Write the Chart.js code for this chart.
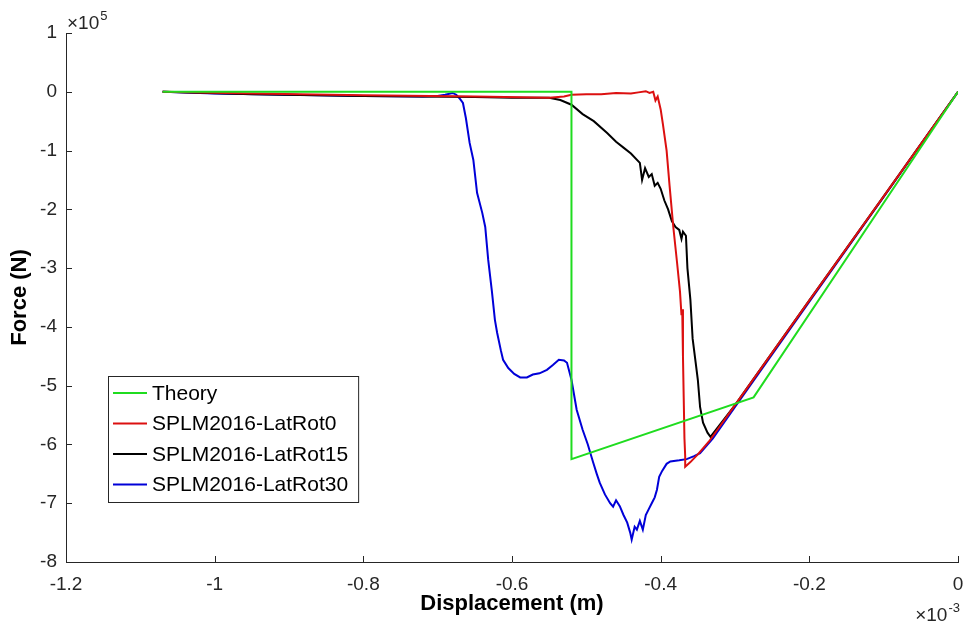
<!DOCTYPE html>
<html>
<head>
<meta charset="utf-8">
<title>Force vs displacement</title>
<script src="https://cdn.jsdelivr.net/npm/chart.js@4.4.1/dist/chart.umd.min.js"></script>
<style>
  html, body { margin: 0; padding: 0; background: #fff; }
  #wrap { width: 968px; height: 632px; }
</style>
</head>
<body>
<div id="wrap"><canvas id="forceChart" width="968" height="632"></canvas></div>
<script>
// displacement in 1e-3 m, force in 1e5 N
const theoryX = [-1.07, -0.52, -0.52, -0.275, 0];
const theoryY = [0, 0, -6.25, -5.2, 0];

const rot0X = [-1.07, -0.95, -0.8, -0.65, -0.55, -0.53, -0.52, -0.5, -0.48, -0.46, -0.44, -0.43, -0.42, -0.415, -0.41,
  -0.407, -0.404, -0.4, -0.397, -0.392, -0.388, -0.383, -0.378, -0.374, -0.372, -0.371, -0.37, -0.369, -0.368, -0.367, -0.367,
  -0.36, -0.35, -0.335, -0.3, -0.2, -0.1, 0];
const rot0Y = [0, -0.03, -0.06, -0.08, -0.1, -0.08, -0.05, -0.04, -0.04, -0.02, -0.03, -0.01, 0.01, -0.02, 0,
  -0.15, -0.08, -0.3, -0.55, -1.0, -1.6, -2.3, -2.9, -3.4, -3.8, -3.7, -4.5, -5.2, -5.9, -6.2, -6.38,
  -6.3, -6.17, -5.95, -5.33, -3.55, -1.78, 0];

const rot15X = [-1.07, -0.95, -0.8, -0.65, -0.6, -0.55, -0.535, -0.52, -0.505, -0.49, -0.472, -0.46, -0.45, -0.44, -0.428,
  -0.425, -0.421, -0.416, -0.412, -0.408, -0.404, -0.4, -0.395, -0.39, -0.385, -0.38, -0.375, -0.372, -0.37, -0.366,
  -0.364, -0.36, -0.357, -0.353, -0.35, -0.347, -0.343, -0.337, -0.333, -0.3, -0.2, -0.1, 0];
const rot15Y = [0, -0.04, -0.07, -0.09, -0.1, -0.1, -0.14, -0.22, -0.38, -0.5, -0.7, -0.85, -0.95, -1.05, -1.21,
  -1.5, -1.3, -1.45, -1.4, -1.6, -1.55, -1.65, -1.85, -2.0, -2.2, -2.3, -2.35, -2.5, -2.38, -2.45,
  -3.0, -3.54, -4.2, -4.6, -4.9, -5.36, -5.63, -5.8, -5.87, -5.33, -3.55, -1.78, 0];

const rot30X = [-1.07, -1.0, -0.9, -0.8, -0.72, -0.7, -0.69, -0.68, -0.675, -0.67, -0.666, -0.662, -0.657, -0.652,
  -0.647, -0.64, -0.636, -0.632, -0.627, -0.623, -0.62, -0.615, -0.612, -0.605, -0.597, -0.589, -0.58, -0.572, -0.563,
  -0.553, -0.545, -0.537, -0.53, -0.526, -0.52, -0.513, -0.505, -0.498, -0.491, -0.486, -0.482, -0.475, -0.468, -0.464,
  -0.46, -0.455, -0.45, -0.445, -0.441, -0.439, -0.435, -0.432, -0.428, -0.424, -0.42, -0.416, -0.412, -0.408, -0.405,
  -0.402, -0.398, -0.392, -0.387, -0.375, -0.365, -0.355, -0.347, -0.33, -0.3, -0.2, -0.1, 0];
const rot30Y = [0, -0.03, -0.05, -0.07, -0.08, -0.07, -0.05, -0.02, -0.05, -0.12, -0.19, -0.45, -0.87, -1.16,
  -1.72, -2.06, -2.3, -2.86, -3.4, -3.88, -4.1, -4.4, -4.56, -4.7, -4.8, -4.86, -4.86, -4.81, -4.79,
  -4.73, -4.65, -4.56, -4.57, -4.61, -4.9, -5.41, -5.75, -6.0, -6.3, -6.5, -6.65, -6.85, -7.0, -7.06,
  -6.95, -7.05, -7.2, -7.33, -7.5, -7.62, -7.4, -7.45, -7.3, -7.45, -7.2, -7.1, -7.0, -6.9, -6.77,
  -6.55, -6.45, -6.33, -6.29, -6.27, -6.25, -6.2, -6.15, -5.9, -5.36, -3.57, -1.79, 0];

const seriesNames = ['Theory', 'SPLM2016-LatRot0', 'SPLM2016-LatRot15', 'SPLM2016-LatRot30'];
const seriesColors = ['#1fdc1f', '#dc1010', '#000000', '#0000d8'];

const xTickLabels = ['-1.2', '-1', '-0.8', '-0.6', '-0.4', '-0.2', '0'];
const yTickLabels = ['-8', '-7', '-6', '-5', '-4', '-3', '-2', '-1', '0', '1'];

const FONT = '"Liberation Sans", Arial, Helvetica, sans-serif';
const AXIS_COLOR = '#262626';

function toPoints(xs, ys) {
  return xs.map((x, i) => ({ x: x, y: ys[i] }));
}

const allX = [theoryX, rot0X, rot15X, rot30X];
const allY = [theoryY, rot0Y, rot15Y, rot30Y];

const datasets = seriesNames.map((name, i) => ({
  label: name,
  data: toPoints(allX[i], allY[i]),
  borderColor: seriesColors[i],
  backgroundColor: seriesColors[i],
  borderWidth: 2,
  pointRadius: 0,
  tension: 0,
  fill: false
}));

// MATLAB style ticks pointing into the plot area
const innerTicks = {
  id: 'innerTicks',
  afterDraw(chart) {
    const { ctx, chartArea, scales } = chart;
    const len = 6;
    ctx.save();
    ctx.strokeStyle = AXIS_COLOR;
    ctx.lineWidth = 1;
    ctx.beginPath();
    scales.x.ticks.forEach(t => {
      const px = Math.round(scales.x.getPixelForValue(t.value)) + 0.5;
      ctx.moveTo(px, chartArea.bottom);
      ctx.lineTo(px, chartArea.bottom - len);
    });
    scales.y.ticks.forEach(t => {
      const py = Math.round(scales.y.getPixelForValue(t.value)) + 0.5;
      ctx.moveTo(chartArea.left, py);
      ctx.lineTo(chartArea.left + len, py);
    });
    ctx.stroke();
    ctx.restore();
  }
};

// exponent multipliers next to the axes
const axisExponents = {
  id: 'axisExponents',
  afterDraw(chart) {
    const { ctx, chartArea } = chart;
    ctx.save();
    ctx.fillStyle = AXIS_COLOR;
    ctx.textBaseline = 'alphabetic';
    ctx.textAlign = 'left';

    // y axis: x10^5
    let x = chartArea.left + 1;
    let base = chartArea.top - 4;
    ctx.font = '19px ' + FONT;
    ctx.fillText('\u00d710', x, base);
    x += ctx.measureText('\u00d710').width + 1;
    ctx.font = '13px ' + FONT;
    ctx.fillText('5', x, base - 9);

    // x axis: x10^-3
    ctx.font = '13px ' + FONT;
    const supW = ctx.measureText('-3').width;
    ctx.font = '19px ' + FONT;
    const mainW = ctx.measureText('\u00d710').width;
    x = chartArea.right + 2 - supW - mainW - 1;
    base = chartArea.bottom + 59;
    ctx.fillText('\u00d710', x, base);
    ctx.font = '13px ' + FONT;
    ctx.fillText('-3', x + mainW + 1, base - 9);
    ctx.restore();
  }
};

// boxed legend in the lower left of the plot
const boxLegend = {
  id: 'boxLegend',
  afterDraw(chart) {
    const { ctx, chartArea } = chart;
    const left = chartArea.left + 42;
    const top = chartArea.bottom - 186;
    const rowH = 30.5;
    ctx.save();
    ctx.font = '21px ' + FONT;
    const textW = Math.max(...seriesNames.map(n => ctx.measureText(n).width));
    const w = 44 + textW + 10;
    const h = 126;
    ctx.fillStyle = '#fff';
    ctx.fillRect(left, top, w, h);
    ctx.strokeStyle = AXIS_COLOR;
    ctx.lineWidth = 1;
    ctx.strokeRect(left + 0.5, top + 0.5, w, h);
    ctx.textBaseline = 'middle';
    ctx.textAlign = 'left';
    chart.data.datasets.forEach((ds, i) => {
      const y = top + 17 + i * rowH;
      ctx.strokeStyle = ds.borderColor;
      ctx.lineWidth = 2;
      ctx.beginPath();
      ctx.moveTo(left + 5, y);
      ctx.lineTo(left + 39, y);
      ctx.stroke();
      ctx.fillStyle = '#000';
      ctx.fillText(ds.label, left + 44, y + 1);
    });
    ctx.restore();
  }
};

// keep the plot box fixed regardless of label overhang
function fixPadding(scale) {
  scale.paddingLeft = 0;
  scale.paddingRight = 0;
  scale.paddingTop = 0;
  scale.paddingBottom = 0;
}

const ctx = document.getElementById('forceChart').getContext('2d');
const forceChart = new Chart(ctx, {
  type: 'line',
  data: { datasets: datasets },
  options: {
    responsive: false,
    animation: false,
    devicePixelRatio: 1,
    layout: { padding: { top: 33, right: 10, left: 0, bottom: 0 } },
    plugins: {
      legend: { display: false },
      tooltip: { enabled: false }
    },
    scales: {
      x: {
        type: 'linear',
        min: -1.2,
        max: 0,
        ticks: {
          stepSize: 0.2,
          padding: 11,
          color: AXIS_COLOR,
          font: { family: FONT, size: 19 },
          maxRotation: 0,
          callback: (value, index) => xTickLabels[index]
        },
        grid: { display: false, drawTicks: false },
        border: { display: true, color: AXIS_COLOR, width: 1 },
        title: {
          display: true,
          text: 'Displacement (m)',
          color: '#000',
          font: { family: FONT, size: 22, weight: 'bold' },
          padding: { top: 0, bottom: 15 }
        },
        afterFit: scale => { scale.height = 70; fixPadding(scale); }
      },
      y: {
        type: 'linear',
        min: -8,
        max: 1,
        ticks: {
          stepSize: 1,
          padding: 9,
          color: AXIS_COLOR,
          font: { family: FONT, size: 19 },
          callback: (value, index) => yTickLabels[index]
        },
        grid: { display: false, drawTicks: false },
        border: { display: true, color: AXIS_COLOR, width: 1 },
        title: {
          display: true,
          text: 'Force (N)',
          color: '#000',
          font: { family: FONT, size: 22, weight: 'bold' },
          padding: { top: 7, bottom: 0 }
        },
        afterFit: scale => { scale.width = 66; fixPadding(scale); }
      }
    }
  },
  plugins: [innerTicks, axisExponents, boxLegend]
});
</script>
</body>
</html>
